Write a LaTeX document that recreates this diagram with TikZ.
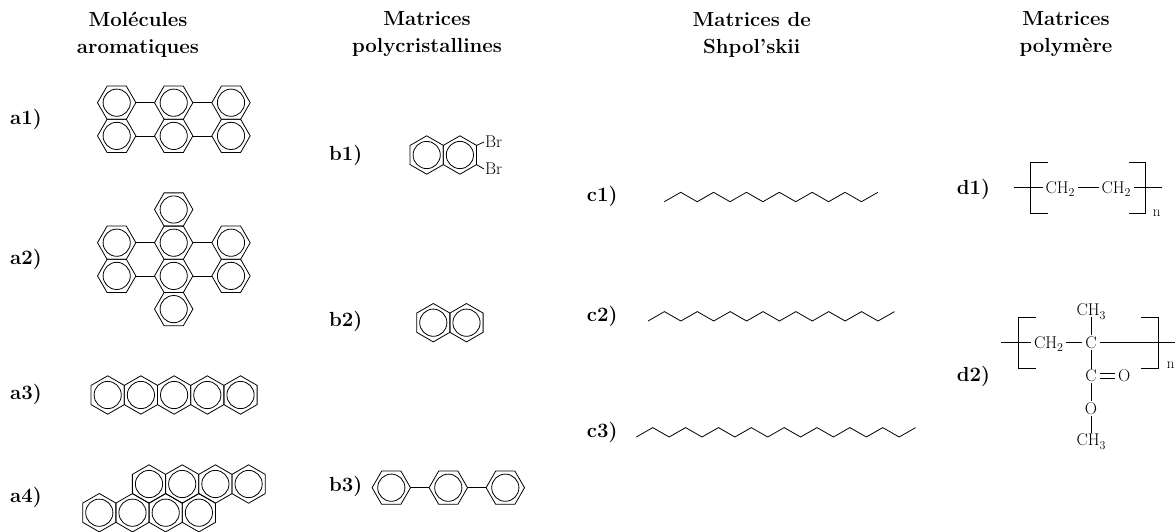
\documentclass[tikz,border=0pt]{standalone}
\usepackage{fontspec}
\usetikzlibrary{shapes.geometric}
\newcommand{\subdigit}[1]{\raisebox{-3.2pt}{\fontsize{12}{14}\selectfont #1}}
\tikzset{
  bond/.style={line width=0.8pt,line join=miter},
  hexbase/.style={draw,regular polygon,regular polygon sides=6,minimum size=38.4pt,inner sep=0pt,outer sep=0pt,line width=0.8pt,
    path picture={\draw[line width=0.8pt] (path picture bounding box.center) circle (13.6pt);}},
  hexflat/.style={hexbase},
  hexpoint/.style={hexbase,shape border rotate=30},
  head/.style={font=\fontsize{20.4}{27}\selectfont\bfseries,align=center,inner sep=0pt},
  tag/.style={font=\fontsize{20.4}{24}\selectfont\bfseries,anchor=west,inner sep=0pt},
  chem/.style={font=\fontsize{17}{20}\selectfont,text height=11.6pt,text depth=0pt,inner xsep=3pt,inner ysep=1.5pt,outer sep=0pt},
  brack/.style={line width=0.8pt},
  sub/.style={font=\fontsize{15}{17}\selectfont,text height=6.5pt,text depth=0pt,inner sep=1pt},
}
\begin{document}
\begin{tikzpicture}[x=1pt,y=-1pt]
\useasboundingbox (0,0) rectangle (1176,531);
% headers
\node[head] (h1) at (138,34.4) {Molécules\\aromatiques};
\node[head] (h2) at (427,34.4) {Matrices\\polycristallines};
\node[head] (h3) at (751.7,34.4) {Matrices de\\Shpol'skii};
\node[head] (h4) at (1066,34.4) {Matrices\\polymère};
% tags
\node[tag] (ta1) at (10,119) {a1)};
\node[tag] (ta2) at (10,259) {a2)};
\node[tag] (ta3) at (10,394) {a3)};
\node[tag] (ta4) at (10,497.7) {a4)};
\node[tag] (tb1) at (329,155) {b1)};
\node[tag] (tb2) at (329,321.7) {b2)};
\node[tag] (tb3) at (329,486.7) {b3)};
\node[tag] (tc1) at (586.7,196.7) {c1)};
\node[tag] (tc2) at (586.7,316) {c2)};
\node[tag] (tc3) at (586.7,432) {c3)};
\node[tag] (td1) at (956.7,189) {d1)};
\node[tag] (td2) at (956.7,376) {d2)};
% a1
\foreach \n/\x in {a/116.7,b/173.7,c/231}{
  \node[hexflat] (a1\n u) at (\x,102.7) {};
  \node[hexflat] (a1\n d) at (\x,135.9) {};
}
\draw[bond] (a1au.corner 6) -- (a1bu.corner 3);
\draw[bond] (a1bu.corner 6) -- (a1cu.corner 3);
\draw[bond] (a1ad.corner 6) -- (a1bd.corner 3);
\draw[bond] (a1bd.corner 6) -- (a1cd.corner 3);
% a2
\foreach \n/\x in {a/116.7,b/173.7,c/231}{
  \node[hexflat] (a2\n u) at (\x,242.7) {};
  \node[hexflat] (a2\n d) at (\x,275.9) {};
}
\node[hexflat] (a2t) at (173.7,209.5) {};
\node[hexflat] (a2b) at (173.7,309.1) {};
\draw[bond] (a2au.corner 6) -- (a2bu.corner 3);
\draw[bond] (a2bu.corner 6) -- (a2cu.corner 3);
\draw[bond] (a2ad.corner 6) -- (a2bd.corner 3);
\draw[bond] (a2bd.corner 6) -- (a2cd.corner 3);
% a3
\foreach \x in {107.7,140.9,174.1,207.3,240.5}{
  \node[hexpoint] (a3-\x) at (\x,395) {};
}
% a4
\foreach \x in {149,182.2,215.4,248.6}{
  \node[hexpoint] (a4u-\x) at (\x,484) {};
}
\foreach \x in {99.3,132.5,165.7,198.9}{
  \node[hexpoint] (a4d-\x) at (\x,512.7) {};
}
% b1
\node[hexpoint] (b1a) at (426.7,155) {};
\node[hexpoint] (b1b) at (459.9,155) {};
\node[chem,inner xsep=1pt,anchor=west] (br1) at (484,142) {Br};
\node[chem,inner xsep=1pt,anchor=west] (br2) at (484,169) {Br};
\draw[bond] (b1b.corner 6) -- (br1.west);
\draw[bond] (b1b.corner 5) -- (br2.west);
% b2
\node[hexpoint] (b2a) at (433.3,322.7) {};
\node[hexpoint] (b2b) at (466.5,322.7) {};
% b3
\node[hexflat] (b3a) at (391.3,487.7) {};
\node[hexflat] (b3b) at (448.3,487.7) {};
\node[hexflat] (b3c) at (505.3,487.7) {};
\draw[bond] (b3a.corner 6) -- (b3b.corner 3);
\draw[bond] (b3b.corner 6) -- (b3c.corner 3);
% chains
\coordinate (c1s) at (664.3,201.7);
\coordinate (c2s) at (648,321);
\coordinate (c3s) at (636.3,437);
\draw[bond] (c1s) \foreach \i in {1,...,13}{ -- ++(16.43,{-9.4*(2*mod(\i,2)-1)}) };
\draw[bond] (c2s) \foreach \i in {1,...,15}{ -- ++(16.43,{-9.4*(2*mod(\i,2)-1)}) };
\draw[bond] (c3s) \foreach \i in {1,...,17}{ -- ++(16.43,{-9.4*(2*mod(\i,2)-1)}) };
% d1
\node[chem] (d1a) at (1060,187.7) {CH\subdigit{2}};
\node[chem] (d1b) at (1116,187.7) {CH\subdigit{2}};
\coordinate (d1l) at (1014,187.7);
\coordinate (d1r) at (1162.3,187.7);
\draw[bond] (d1l) -- (d1a.west);
\draw[bond] (d1a.east) -- (d1b.west);
\draw[bond] (d1b.east) -- (d1r);
\draw[brack] (1047.7,162.3) -- (1030.7,162.3) -- (1030.7,213.3) -- (1047.7,213.3);
\draw[brack] (1128.7,162.3) -- (1145.7,162.3) -- (1145.7,213.3) -- (1128.7,213.3);
\node[sub] (d1n) at (1156.7,213) {n};
% d2
\node[chem] (d2h) at (1048.5,342.7) {CH\subdigit{2}};
\node[chem] (d2c) at (1091,342.7) {C};
\node[chem] (d2m) at (1091,310) {CH\subdigit{3}};
\node[chem] (d2k) at (1091,376) {C};
\node[chem] (d2o) at (1124.3,376) {O};
\node[chem] (d2e) at (1091,408.3) {O};
\node[chem] (d2t) at (1091,440) {CH\subdigit{3}};
\coordinate (d2l) at (1001.3,342.7);
\coordinate (d2r) at (1175,342.7);
\draw[bond] (d2l) -- (d2h.west);
\draw[bond] (d2h.east) -- (d2c.west);
\draw[bond] (d2c.east) -- (d2r);
\draw[bond] (d2m.south) -- (d2c.north);
\draw[bond] (d2c.south) -- (d2k.north);
\draw[bond] ([yshift=2.3pt]d2k.east) -- ([yshift=2.3pt]d2o.west);
\draw[bond] ([yshift=-2.3pt]d2k.east) -- ([yshift=-2.3pt]d2o.west);
\draw[bond] (d2k.south) -- (d2e.north);
\draw[bond] (d2e.south) -- (d2t.north);
\draw[brack] (1035.7,317.7) -- (1018.3,317.7) -- (1018.3,368.3) -- (1035.7,368.3);
\draw[brack] (1141.3,317.7) -- (1158.3,317.7) -- (1158.3,368.3) -- (1141.3,368.3);
\node[sub] (d2n) at (1170.7,365) {n};
\end{tikzpicture}
\end{document}
